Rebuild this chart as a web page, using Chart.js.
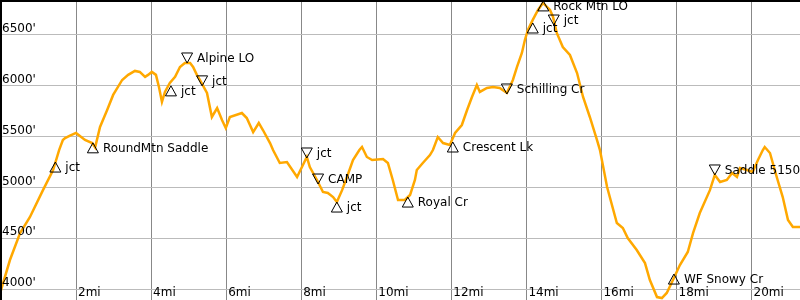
<!DOCTYPE html>
<html>
<head>
<meta charset="utf-8">
<script src="https://cdn.jsdelivr.net/npm/chart.js@4/dist/chart.umd.min.js"></script>
<style>
html,body{margin:0;padding:0;background:#fff;}
#wrap{width:800px;height:300px;}
</style>
</head>
<body>
<div id="wrap"><canvas id="c" width="800" height="300"></canvas></div>
<script>
// Trail profile: distance (miles) and elevation (feet)
const profileMiles = [0,0.24,0.51,0.77,1.12,1.39,1.55,1.65,1.71,1.84,2.0,2.24,2.43,2.51,2.64,2.83,2.99,3.23,3.39,3.57,3.70,3.84,3.92,4.02,4.13,4.21,4.29,4.37,4.50,4.64,4.77,4.90,5.04,5.12,5.22,5.30,5.49,5.62,5.76,5.89,5.99,6.10,6.42,6.55,6.72,6.87,6.98,7.17,7.25,7.43,7.62,7.89,8.02,8.15,8.23,8.42,8.58,8.71,8.85,8.95,9.09,9.22,9.38,9.55,9.62,9.75,9.89,10.18,10.31,10.44,10.58,10.76,10.90,11.03,11.08,11.24,11.43,11.51,11.64,11.78,11.96,12.10,12.28,12.42,12.55,12.68,12.76,12.95,13.11,13.29,13.48,13.64,13.75,13.88,13.96,14.04,14.17,14.31,14.44,14.63,14.71,14.81,14.97,15.16,15.35,15.51,15.69,15.88,15.96,16.15,16.41,16.57,16.70,16.94,17.16,17.29,17.48,17.61,17.74,17.88,18.09,18.30,18.44,18.62,18.89,19.02,19.16,19.34,19.48,19.61,19.69,19.88,20.03,20.17,20.30,20.35,20.49,20.67,20.83,20.97,21.10,21.29];
const profileElev = [3990,4288,4553,4709,4975,5173,5369,5468,5487,5510,5537,5468,5438,5395,5596,5763,5911,6058,6108,6147,6137,6088,6108,6137,6108,5989,5842,5940,6029,6088,6186,6225,6225,6186,6108,6058,5930,5694,5782,5664,5586,5694,5733,5684,5546,5635,5566,5438,5369,5242,5251,5104,5202,5301,5202,5075,4957,4947,4907,4858,4975,5104,5271,5369,5399,5301,5271,5281,5242,5075,4878,4878,4927,5075,5173,5242,5320,5369,5497,5438,5419,5537,5615,5763,5891,6009,5940,5979,5989,5979,5930,6058,6186,6323,6451,6549,6648,6746,6815,6746,6677,6520,6382,6303,6126,5891,5694,5468,5369,5006,4652,4603,4504,4386,4258,4091,3924,3914,3964,4072,4239,4367,4553,4750,4975,5124,5055,5075,5143,5104,5193,5173,5153,5271,5369,5399,5340,5104,4907,4681,4612,4612];

// Waypoints
const wpMiles = [1.45,2.45,4.53,4.96,5.36,8.15,8.45,8.95,10.84,12.04,13.48,14.17,14.45,14.73,17.93,19.02];
const wpElev  = [5251,5440,6000,6225,6000,5291,5035,4858,4907,5448,5920,6618,6835,6598,4150,5124];
const wpDir   = ['up','up','up','down','down','down','down','up','up','up','down','up','up','down','up','down'];
const wpLabels = ['jct','RoundMtn Saddle','jct','Alpine LO','jct','jct','CAMP','jct','Royal Cr','Crescent Lk','Schilling Cr','jct','Rock Mtn LO','jct','WF Snowy Cr','Saddle 5150'];

// Axis settings and tick labels
const xMin = -0.025, xMax = 21.29;
const yMin = 3895, yMax = 6844;
const xTicks = [2,4,6,8,10,12,14,16,18,20];
const yTicks = [4000,4500,5000,5500,6000,6500];
const xUnit = 'mi', yUnit = "'";

const FONT = '"DejaVu Sans", Verdana, sans-serif';

const tickLabelsPlugin = {
  id: 'tickLabels',
  afterDatasetsDraw(chart) {
    const xs = chart.scales.x, ys = chart.scales.y, ctx = chart.ctx;
    ctx.save();
    ctx.font = '12px ' + FONT;
    ctx.fillStyle = '#000';
    ctx.textAlign = 'left';
    ctx.textBaseline = 'alphabetic';
    xs.ticks.forEach(t => {
      const px = xs.getPixelForValue(t.value);
      ctx.fillText(t.value + xUnit, px + 2, 296);
    });
    ys.ticks.forEach(t => {
      const py = ys.getPixelForValue(t.value);
      ctx.fillText(t.value + yUnit, 2, py - 3);
    });
    ctx.restore();
  }
};

const waypointPlugin = {
  id: 'waypoints',
  afterDatasetsDraw(chart) {
    const xs = chart.scales.x, ys = chart.scales.y, ctx = chart.ctx;
    ctx.save();
    ctx.font = '12px ' + FONT;
    ctx.fillStyle = '#000';
    ctx.strokeStyle = '#000';
    ctx.lineWidth = 1;
    ctx.textAlign = 'left';
    ctx.textBaseline = 'middle';
    for (let i = 0; i < wpMiles.length; i++) {
      const px = xs.getPixelForValue(wpMiles[i]);
      const py = ys.getPixelForValue(wpElev[i]);
      const hw = 5.5, h = 10;
      ctx.beginPath();
      let cy;
      if (wpDir[i] === 'up') {
        ctx.moveTo(px, py);
        ctx.lineTo(px + hw, py + h);
        ctx.lineTo(px - hw, py + h);
        cy = py + h / 2;
      } else {
        ctx.moveTo(px, py);
        ctx.lineTo(px + hw, py - h);
        ctx.lineTo(px - hw, py - h);
        cy = py - h / 2;
      }
      ctx.closePath();
      ctx.stroke();
      ctx.fillText(wpLabels[i], px + 10, cy + 1);
    }
    ctx.restore();
  }
};

const framePlugin = {
  id: 'frame',
  afterDraw(chart) {
    const ctx = chart.ctx;
    ctx.save();
    ctx.fillStyle = '#000';
    ctx.fillRect(0, 0, chart.width, 2);
    ctx.fillRect(0, 0, 2, chart.height);
    ctx.restore();
  }
};

new Chart(document.getElementById('c'), {
  type: 'line',
  data: {
    datasets: [{
      data: profileMiles.map((m, i) => ({x: m, y: profileElev[i]})),
      borderColor: '#ffa800',
      borderWidth: 2.5,
      pointRadius: 0,
      tension: 0,
      fill: false
    }]
  },
  options: {
    responsive: false,
    animation: false,
    layout: {padding: 0},
    plugins: {legend: {display: false}, tooltip: {enabled: false}},
    scales: {
      x: {
        type: 'linear',
        min: xMin, max: xMax,
        border: {display: false},
        grid: {color: '#888', lineWidth: 1, drawTicks: false},
        ticks: {display: false},
        afterBuildTicks: s => { s.ticks = xTicks.map(v => ({value: v})); }
      },
      y: {
        type: 'linear',
        min: yMin, max: yMax,
        border: {display: false},
        grid: {color: '#bbb', lineWidth: 1, drawTicks: false},
        ticks: {display: false},
        afterBuildTicks: s => { s.ticks = yTicks.map(v => ({value: v})); }
      }
    }
  },
  plugins: [tickLabelsPlugin, waypointPlugin, framePlugin]
});
</script>
</body>
</html>
